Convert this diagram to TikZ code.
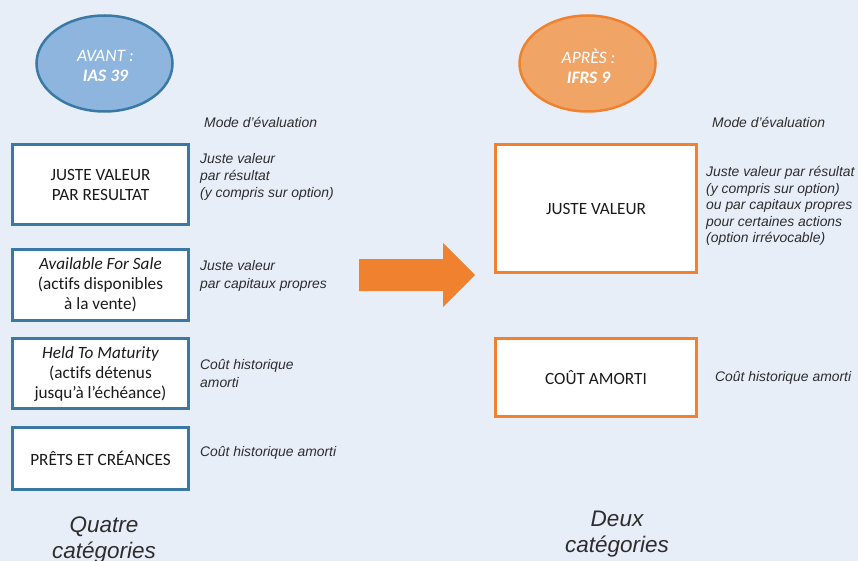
\documentclass[tikz,border=0pt]{standalone}
\usepackage{fontspec}
\setmainfont{Liberation Sans}
\newfontfamily\calib[Ligatures=NoCommon]{Carlito}
\usetikzlibrary{shapes.geometric}
\definecolor{bg}{RGB}{232,238,248}
\definecolor{bblue}{RGB}{58,121,166}
\definecolor{lblue}{RGB}{141,181,221}
\definecolor{borange}{RGB}{240,130,47}
\definecolor{lorange}{RGB}{240,164,102}
\definecolor{txt}{RGB}{26,26,26}
\definecolor{ann}{RGB}{45,45,45}
\tikzset{
  boxtext/.style={font=\calib\fontsize{17.2}{20}\selectfont, text=txt},
  lbox/.style={boxtext, draw=bblue, line width=3pt, fill=white, minimum width=176pt, inner sep=0pt, align=center},
  rbox/.style={boxtext, draw=borange, line width=3pt, fill=white, minimum width=201pt, inner sep=0pt, align=center},
  oval/.style={ellipse, line width=2.5pt, minimum width=136pt, minimum height=96pt, inner sep=0pt},
  ovaltext/.style={align=center, text=white, font=\calib\fontsize{17.5}{20}\selectfont, inner sep=0pt},
  annot/.style={anchor=west, align=left, inner sep=0pt, text=ann, font=\itshape\fontsize{13.9}{17.3}\selectfont},
  rannot/.style={annot, font=\itshape\fontsize{13.9}{16.6}\selectfont},
  bigtext/.style={anchor=north, align=center, inner sep=0pt, text=ann, font=\itshape\fontsize{22.5}{25.5}\selectfont}
}
\begin{document}
\begin{tikzpicture}[x=1pt,y=-1pt]
\useasboundingbox (0,0) rectangle (858,561);
\fill[bg] (0,0) rectangle (858,561);

% ellipses
\node[oval, draw=bblue, fill=lblue] (avant) at (104.5,63.5) {};
\node[ovaltext] (avantT) at (105.5,66) {\itshape AVANT :\\\bfseries\itshape IAS 39};
\node[oval, draw=borange, fill=lorange] (apres) at (587.5,63.5) {};
\node[ovaltext] (apresT) at (588.5,66) {\itshape APRÈS :\\\bfseries\itshape IFRS 9};

% headers
\node[annot] (modeL) at (204,122) {Mode d’évaluation};
\node[annot] (modeR) at (712,122) {Mode d’évaluation};

% left boxes
\node[lbox, minimum height=80pt] (jvr) at (100.5,184.5) {JUSTE VALEUR\\PAR RESULTAT};
\node[lbox, minimum height=71pt] (afs) at (100.5,285) {\itshape Available For Sale\\(actifs disponibles\\à la vente)};
\node[lbox, minimum height=70pt] (htm) at (100.5,373.5) {\itshape Held To Maturity\\(actifs détenus\\jusqu’à l’échéance)};
\node[lbox, minimum height=62pt] (pc) at (100.5,458.5) {PRÊTS ET CRÉANCES};

% left annotations
\node[annot] (a1) at (200,177) {Juste valeur\\par résultat\\(y compris sur option)};
\node[annot] (a2) at (200,276) {Juste valeur\\par capitaux propres};
\node[annot] (a3) at (200,373.5) {Coût historique\\amorti};
\node[annot] (a4) at (200,453) {Coût historique amorti};

% right boxes
\node[rbox, minimum height=128pt] (jv) at (596,208.5) {JUSTE VALEUR};
\node[rbox, minimum height=78pt] (ca) at (596,377.5) {COÛT AMORTI};

% right annotations
\node[rannot] (r1) at (706,206) {Juste valeur par résultat\\(y compris sur option)\\ou par capitaux propres\\pour certaines actions\\(option irrévocable)};
\node[annot] (r2) at (715,378) {Coût historique amorti};

% big arrow
\fill[borange] (359,259) -- (443,259) -- (443,243) -- (475,275) -- (443,307) -- (443,291) -- (359,291) -- cycle;

% bottom captions
\node[bigtext] (quatre) at (104,517) {Quatre\\catégories};
\node[bigtext] (deux) at (617,511) {Deux\\catégories};
\end{tikzpicture}
\end{document}
